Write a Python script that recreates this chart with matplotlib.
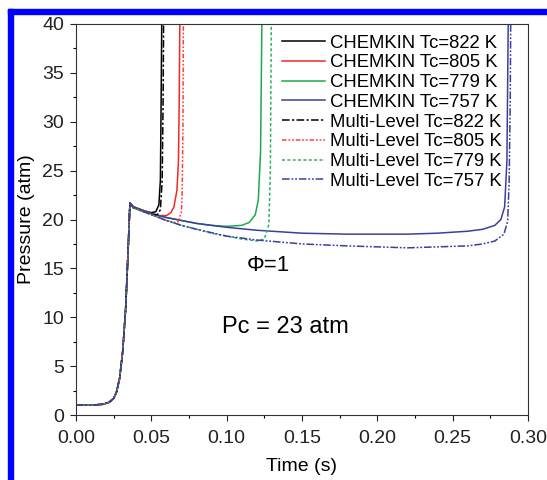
import matplotlib
matplotlib.use("Agg")
import matplotlib.pyplot as plt
from matplotlib.patches import Rectangle
from matplotlib.ticker import MultipleLocator, FormatStrFormatter

plt.rcParams['font.family'] = ['Liberation Sans', 'DejaVu Sans']

# shared compression stroke (time in s, pressure in atm)
t_comp = [0.0, 0.010, 0.018, 0.022, 0.025, 0.027, 0.029, 0.031, 0.033, 0.0345, 0.0358]
p_comp = [1.0, 1.0, 1.1, 1.3, 1.7, 2.4, 3.8, 6.5, 11.0, 16.5, 21.7]

# post-compression parts of each case
t_ck822 = [0.038, 0.045, 0.050, 0.053, 0.0550, 0.0560, 0.0565, 0.0570]
p_ck822 = [21.3, 20.9, 20.7, 20.8, 21.5, 24.0, 32.0, 42.0]
t_ml822 = [0.038, 0.045, 0.050, 0.054, 0.056, 0.0572, 0.0578, 0.0582]
p_ml822 = [21.2, 20.8, 20.5, 20.5, 21.0, 24.0, 32.0, 42.0]

t_ck805 = [0.038, 0.045, 0.050, 0.055, 0.060, 0.063, 0.065, 0.067, 0.068, 0.0685, 0.0690]
p_ck805 = [21.3, 20.9, 20.6, 20.4, 20.4, 20.7, 21.3, 23.0, 26.0, 32.0, 42.0]
t_ml805 = [0.038, 0.045, 0.050, 0.055, 0.060, 0.065, 0.068, 0.070, 0.0705, 0.0710, 0.0713]
p_ml805 = [21.2, 20.8, 20.5, 20.2, 19.9, 19.7, 19.8, 20.8, 23.0, 30.0, 42.0]

t_ck779 = [0.038, 0.05, 0.06, 0.07, 0.08, 0.09, 0.10, 0.11, 0.115, 0.119, 0.121, 0.1225, 0.1235]
p_ck779 = [21.3, 20.6, 20.2, 19.9, 19.6, 19.4, 19.3, 19.4, 19.7, 20.5, 22.0, 27.0, 42.0]
t_ml779 = [0.038, 0.05, 0.06, 0.07, 0.08, 0.09, 0.10, 0.11, 0.12, 0.125, 0.128, 0.129, 0.1297]
p_ml779 = [21.2, 20.5, 19.9, 19.4, 19.0, 18.6, 18.3, 18.0, 17.8, 18.0, 19.5, 25.0, 42.0]

t_ck757 = [0.038, 0.05, 0.06, 0.07, 0.08, 0.10, 0.12, 0.15, 0.18, 0.20, 0.22, 0.24, 0.26,
           0.27, 0.278, 0.282, 0.2845, 0.286, 0.287]
p_ck757 = [21.3, 20.6, 20.2, 19.9, 19.6, 19.2, 18.9, 18.6, 18.5, 18.5, 18.5, 18.6, 18.8,
           19.0, 19.4, 20.0, 21.3, 26.0, 42.0]
t_ml757 = [0.038, 0.05, 0.06, 0.07, 0.08, 0.10, 0.12, 0.15, 0.18, 0.20, 0.22, 0.24, 0.26,
           0.27, 0.278, 0.284, 0.2865, 0.2875, 0.2882, 0.2886]
p_ml757 = [21.2, 20.5, 19.9, 19.4, 19.0, 18.3, 17.9, 17.5, 17.3, 17.2, 17.1, 17.2, 17.3,
           17.5, 17.8, 18.5, 19.8, 24.0, 32.0, 42.0]

labels = ["CHEMKIN Tc=822 K", "CHEMKIN Tc=805 K", "CHEMKIN Tc=779 K", "CHEMKIN Tc=757 K",
          "Multi-Level Tc=822 K", "Multi-Level Tc=805 K", "Multi-Level Tc=779 K",
          "Multi-Level Tc=757 K"]

fig = plt.figure(figsize=(5.47, 4.80), dpi=100)
ax = fig.add_axes([76 / 547, 65 / 480, 452 / 547, 391 / 480])

# blue frame of the original figure
fig.patches.append(Rectangle((8 / 547, 466 / 480), 539 / 547, 5 / 480,
                             transform=fig.transFigure, color="#0000ff", zorder=5))
fig.patches.append(Rectangle((8 / 547, 0), 5 / 547, 471 / 480,
                             transform=fig.transFigure, color="#0000ff", zorder=5))

cases = [
    (t_ck822, p_ck822, "black", "-"),
    (t_ck805, p_ck805, "#f02828", "-"),
    (t_ck779, p_ck779, "#20a850", "-"),
    (t_ck757, p_ck757, "#3c3f9c", "-"),
    (t_ml822, p_ml822, "black", (0, (5, 1.5, 1.5, 1.5))),
    (t_ml805, p_ml805, "#ff4040", (0, (3, 1.2, 1.2, 1.2, 1.2, 1.2))),
    (t_ml779, p_ml779, "#30b060", (0, (2, 1.5))),
    (t_ml757, p_ml757, "#3c3f9c", (0, (5, 1.2, 1.2, 1.2, 1.2, 1.2))),
]
for (t, p, c, ls), lab in zip(cases, labels):
    ax.plot(t_comp + t, p_comp + p, color=c, linestyle=ls, linewidth=1.1, label=lab)

ax.set_xlim(0, 0.30)
ax.set_ylim(0, 40)
ax.xaxis.set_major_locator(MultipleLocator(0.05))
ax.xaxis.set_minor_locator(MultipleLocator(0.025))
ax.yaxis.set_major_locator(MultipleLocator(5))
ax.yaxis.set_minor_locator(MultipleLocator(2.5))
ax.xaxis.set_major_formatter(FormatStrFormatter("%.2f"))
ax.tick_params(which="major", direction="out", length=4.5, width=0.8, labelsize=14,
               colors="#222222")
ax.tick_params(axis="x", which="major", pad=6)
ax.tick_params(axis="y", which="major", pad=4)
ax.tick_params(which="minor", direction="out", length=2.5, width=0.8)
for s in ax.spines.values():
    s.set_linewidth(0.8)
    s.set_color("#333333")

ax.set_xlabel("Time (s)", fontsize=14, labelpad=8)
ax.set_ylabel("Pressure (atm)", fontsize=14, labelpad=5)

ax.text(0.1135, 15.3, "Φ=1", fontsize=16, va="center", ha="left")
ax.text(0.0969, 9.0, "Pc = 23 atm", fontsize=17, va="center", ha="left")

ax.legend(loc="upper right", bbox_to_anchor=(0.943, 0.973), frameon=False, fontsize=13.3,
          handlelength=2.3, handletextpad=0.3, labelspacing=0.15, borderpad=0,
          borderaxespad=0)

fig.savefig("out.png", dpi=100)
